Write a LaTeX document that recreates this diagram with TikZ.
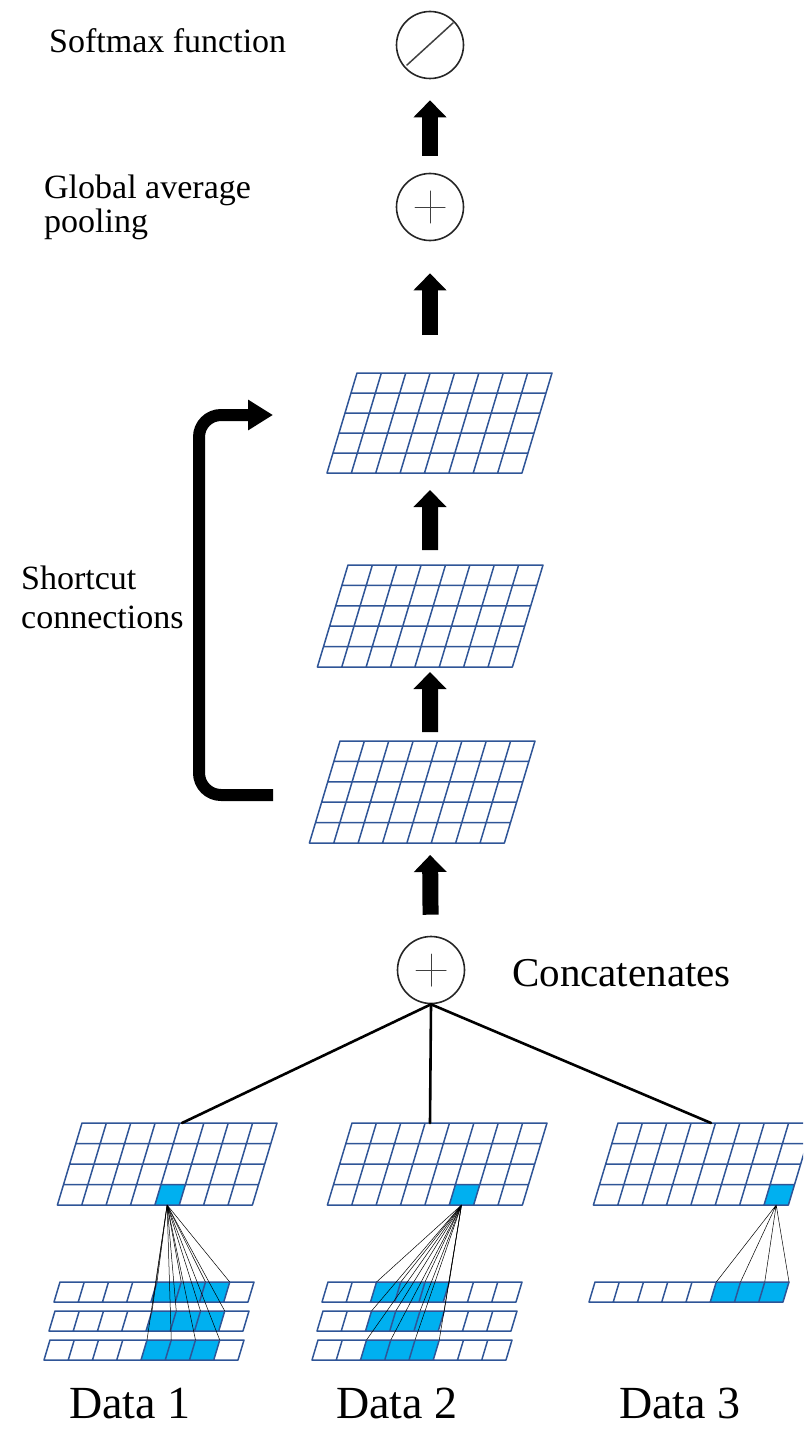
\documentclass[tikz,border=0pt]{standalone}
\usepackage{fontspec}
\setmainfont{Liberation Serif}
\usetikzlibrary{arrows.meta}
\definecolor{mapblue}{RGB}{47,85,151}
\definecolor{cellblue}{RGB}{0,176,240}

\begin{document}
\begin{tikzpicture}[x=1pt,y=-1pt,line cap=round,line join=round,
  every node/.style={inner sep=1pt},
  opnode/.style={circle,draw=black!85,line width=1.6pt,minimum size=67pt,inner sep=0pt},
  opmark/.style={black!75,line width=1pt},
  maplines/.style={draw=mapblue,line width=1.5pt},
  hotcell/.style={fill=cellblue},
  fanline/.style={black,line width=0.5pt},
  mergeline/.style={black,line width=2.6pt},
  fatarrow/.style={line cap=butt,line width=16pt,-{Triangle[width=32pt,length=17pt]}},
  shortcut/.style={line cap=butt,line width=12pt,rounded corners=22pt,-{Triangle[width=29pt,length=25pt]}},
  txt/.style={anchor=base west,font=\fontsize{34}{35}\selectfont,align=left},
  datatxt/.style={anchor=base west,font=\fontsize{46}{50}\selectfont}]
  \useasboundingbox (0,0) rectangle (803,1442);
  \clip (0,0) rectangle (803,1442);

  % operators
  \node[opnode] (soft) at (430,45) {};
  \draw[opmark,line width=1.5pt] (soft.center) ++(-23,20) -- ++(46,-42);
  \node[opnode] (gap) at (430,207) {};
  \draw[opmark] (gap.center) ++(-15,0) -- ++(30,0) (gap.center) ++(0,-16) -- ++(0,32);
  \node[opnode] (concat) at (431,970) {};
  \draw[opmark] (concat.center) ++(-15,0) -- ++(30,0) (concat.center) ++(0,-16) -- ++(0,32);

  % residual feature maps
  \begin{scope}[shift={(357,373)},xslant=0.3]
    \draw[maplines] (0,100) grid[xstep=24.375pt,ystep=20pt] (195,0) (0,0) rectangle (195,100);
    \coordinate (fm1top) at (73,0);
    \coordinate (fm1bot) at (103,100);
  \end{scope}
  \begin{scope}[shift={(348,565)},xslant=0.3]
    \draw[maplines] (0,102) grid[xstep=24.375pt,ystep=20.4pt] (195,0) (0,0) rectangle (195,102);
    \coordinate (fm2top) at (82,0);
    \coordinate (fm2bot) at (112.6,102);
  \end{scope}
  \begin{scope}[shift={(340,741)},xslant=0.3]
    \draw[maplines] (0,102) grid[xstep=24.375pt,ystep=20.4pt] (195,0) (0,0) rectangle (195,102);
    \coordinate (fm3top) at (90,0);
    \coordinate (fm3bot) at (120.6,102);
  \end{scope}

  % input feature maps
  \begin{scope}[shift={(82,1123)},xslant=0.3]
    \fill[hotcell] (97.5,61.5) rectangle (121.875,82);
    \draw[maplines] (0,82) grid[xstep=24.375pt,ystep=20.5pt] (195,0) (0,0) rectangle (195,82);
    \coordinate (in1top) at (100,0);
    \coordinate (src1) at (109.7,82);
  \end{scope}
  \begin{scope}[shift={(352,1123)},xslant=0.3]
    \fill[hotcell] (121.875,61.5) rectangle (146.25,82);
    \draw[maplines] (0,82) grid[xstep=24.375pt,ystep=20.5pt] (195,0) (0,0) rectangle (195,82);
    \coordinate (in2top) at (78,0);
    \coordinate (src2) at (134.1,82);
  \end{scope}
  \begin{scope}[shift={(618,1123)},xslant=0.3]
    \fill[hotcell] (170.625,61.5) rectangle (195,82);
    \draw[maplines] (0,82) grid[xstep=24.375pt,ystep=20.5pt] (195,0) (0,0) rectangle (195,82);
    \coordinate (in3top) at (93,0);
    \coordinate (src3) at (182.8,82);
  \end{scope}

  % Data 1 rows
  \begin{scope}[shift={(60,1282)},xslant=0.3]
    \fill[hotcell] (97,0) rectangle (169.75,20);
    \draw[maplines] (0,20) grid[xstep=24.25pt,ystep=20pt] (194,0) (0,0) rectangle (194,20);
    \draw[fanline] (src1) -- (97,0) (src1) -- (121.25,0) (src1) -- (145.5,0) (src1) -- (169.75,0);
  \end{scope}
  \begin{scope}[shift={(55,1311)},xslant=0.3]
    \fill[hotcell] (97,0) rectangle (169.75,20);
    \draw[maplines] (0,20) grid[xstep=24.25pt,ystep=20pt] (194,0) (0,0) rectangle (194,20);
    \draw[fanline] (src1) -- (97,0) (src1) -- (121.25,0) (src1) -- (145.5,0) (src1) -- (169.75,0);
  \end{scope}
  \begin{scope}[shift={(50,1340)},xslant=0.3]
    \fill[hotcell] (97,0) rectangle (169.75,20);
    \draw[maplines] (0,20) grid[xstep=24.25pt,ystep=20pt] (194,0) (0,0) rectangle (194,20);
    \draw[fanline] (src1) -- (97,0) (src1) -- (121.25,0) (src1) -- (145.5,0) (src1) -- (169.75,0);
  \end{scope}

  % Data 2 rows
  \begin{scope}[shift={(328,1282)},xslant=0.3]
    \fill[hotcell] (48.5,0) rectangle (121.25,20);
    \draw[maplines] (0,20) grid[xstep=24.25pt,ystep=20pt] (194,0) (0,0) rectangle (194,20);
    \draw[fanline] (src2) -- (48.5,0) (src2) -- (72.75,0) (src2) -- (97,0) (src2) -- (121.25,0);
  \end{scope}
  \begin{scope}[shift={(323,1311)},xslant=0.3]
    \fill[hotcell] (48.5,0) rectangle (121.25,20);
    \draw[maplines] (0,20) grid[xstep=24.25pt,ystep=20pt] (194,0) (0,0) rectangle (194,20);
    \draw[fanline] (src2) -- (48.5,0) (src2) -- (72.75,0) (src2) -- (97,0) (src2) -- (121.25,0);
  \end{scope}
  \begin{scope}[shift={(318,1340)},xslant=0.3]
    \fill[hotcell] (48.5,0) rectangle (121.25,20);
    \draw[maplines] (0,20) grid[xstep=24.25pt,ystep=20pt] (194,0) (0,0) rectangle (194,20);
    \draw[fanline] (src2) -- (48.5,0) (src2) -- (72.75,0) (src2) -- (97,0) (src2) -- (121.25,0);
  \end{scope}

  % Data 3 row
  \begin{scope}[shift={(595,1282)},xslant=0.3]
    \fill[hotcell] (121.25,0) rectangle (194,20);
    \draw[maplines] (0,20) grid[xstep=24.25pt,ystep=20pt] (194,0) (0,0) rectangle (194,20);
    \draw[fanline] (src3) -- (121.25,0) (src3) -- (145.5,0) (src3) -- (169.75,0) (src3) -- (194,0);
  \end{scope}

  % merge and forward arrows
  \draw[mergeline] (concat.south) -- (in1top);
  \draw[mergeline] (concat.south) -- (in2top);
  \draw[mergeline] (concat.south) -- (in3top);
  \draw[fatarrow,shorten <=21pt,shorten >=12pt] (concat) -- (fm3bot);
  \draw[fatarrow,shorten <=9pt,shorten >=5pt] (fm3top) -- (fm2bot);
  \draw[fatarrow,shorten <=15pt,shorten >=17pt] (fm2top) -- (fm1bot);
  \draw[fatarrow,shorten <=38pt,shorten >=32pt] (fm1top) -- (gap);
  \draw[fatarrow,shorten <=17pt,shorten >=21pt] (gap) -- (soft);

  % shortcut
  \coordinate (scin) at (273,795);
  \coordinate (scout) at (273,415);
  \draw[shortcut] (scin) -- ++(-74,0) |- (scout);

  % labels (base = last line)
  \node[txt] (softlbl) at (48,53) {Softmax function};
  \node[txt] (gaplbl) at (43,233) {Global average\\pooling};
  \node[txt,font=\fontsize{34}{39}\selectfont] (sclbl) at (20,628) {Shortcut\\connections};
  \node[txt,font=\fontsize{41}{44}\selectfont] (catlbl) at (511,986) {Concatenates};
  \node[datatxt] (d1lbl) at (68,1418) {Data 1};
  \node[datatxt] (d2lbl) at (335,1418) {Data 2};
  \node[datatxt] (d3lbl) at (618,1418) {Data 3};
\end{tikzpicture}
\end{document}
